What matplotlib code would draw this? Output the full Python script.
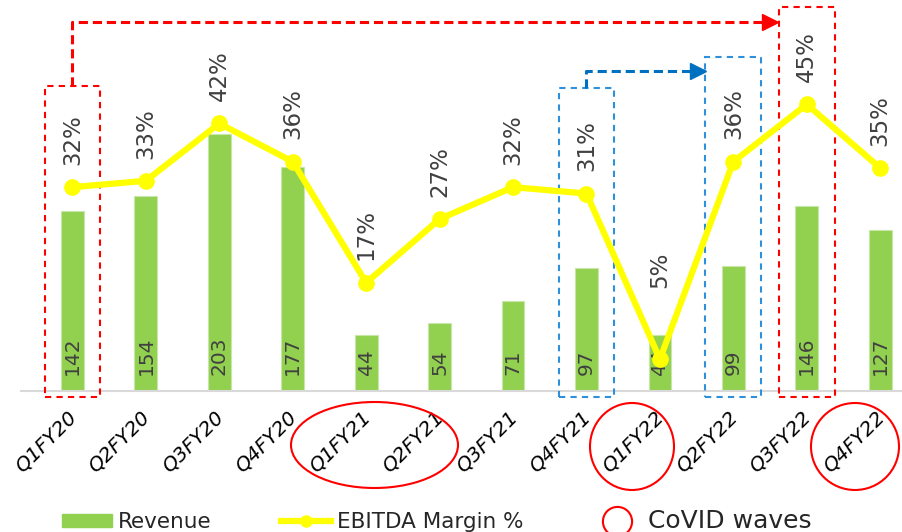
import matplotlib
matplotlib.use("Agg")
import matplotlib.pyplot as plt
from matplotlib.patches import Rectangle, Ellipse, Patch
from matplotlib.lines import Line2D
import matplotlib.transforms as mtransforms

# data
quarters = ["Q1FY20", "Q2FY20", "Q3FY20", "Q4FY20", "Q1FY21", "Q2FY21",
            "Q3FY21", "Q4FY21", "Q1FY22", "Q2FY22", "Q3FY22", "Q4FY22"]
revenue = [142, 154, 203, 177, 44, 54, 71, 97, 44, 99, 146, 127]
ebitda_margin = [32, 33, 42, 36, 17, 27, 32, 31, 5, 36, 45, 35]

BAR = "#92D050"
LINE = "#FFFF00"
TXT = "#404040"
RED = "#FF0000"
BLUE_BOX = "#2E8FDA"
BLUE_ARR = "#0070C0"

W, H = 903, 532
BASE = 391  # baseline pixel row

fig = plt.figure(figsize=(W / 100, H / 100), dpi=100)
ax = fig.add_axes([21 / W, (H - BASE) / H, 1 - 21 / W, BASE / H])
ax2 = ax.twinx()

x = list(range(len(quarters)))
ax.bar(x, revenue, width=0.31, color=BAR, edgecolor="#C8E6A8", linewidth=0.8, zorder=2)
ax.set_xlim(-0.70, 11.31)
ax.set_ylim(0, BASE / 1.265)
ax2.set_ylim(0, BASE / 6.37)

for a in (ax, ax2):
    for s in ("top", "right", "left"):
        a.spines[s].set_visible(False)
    a.set_yticks([])
ax2.spines["bottom"].set_visible(False)
ax.spines["bottom"].set_color("#D9D9D9")
ax.spines["bottom"].set_linewidth(1.5)
ax.set_xticks([])

# revenue labels inside bars
for i, v in enumerate(revenue):
    ax.annotate(str(v), xy=(i, 0), xytext=(0, 11.5), textcoords="offset points",
                rotation=90, ha="center", va="bottom", fontsize=14.5, color=TXT, zorder=3)

# ebitda line
ax2.plot(x, ebitda_margin, color=LINE, lw=4.5, marker="o", ms=11, zorder=5,
         solid_capstyle="round")
for i, v in enumerate(ebitda_margin):
    off = 16 if i != 8 else 51
    ax2.annotate(f"{v}%", xy=(i, v), xytext=(0, off), textcoords="offset points",
                 rotation=90, ha="center", va="bottom", fontsize=16.5, color=TXT)

# x labels
for i, q in enumerate(quarters):
    ax.annotate(q, xy=(i, 0), xycoords=("data", "axes fraction"), xytext=(-4, -12),
                textcoords="offset points", rotation=45, rotation_mode="anchor",
                ha="right", va="top", fontsize=14.5, style="italic", color="black",
                annotation_clip=False)

# annotation shapes, x in data units, y in axes fraction
tr = mtransforms.blended_transform_factory(ax.transData, ax.transAxes)


def fy(px):
    return (BASE - px) / BASE


def box(i, top, color):
    r = Rectangle((i - 0.38, fy(397)), 0.76, fy(top) - fy(397), transform=tr,
                  fill=False, edgecolor=color, lw=1.5, ls=(0, (3, 2.5)),
                  clip_on=False, zorder=6)
    ax.add_patch(r)


box(0, 86, RED)
box(10, 7, RED)
box(7, 88, BLUE_BOX)
box(9, 57, BLUE_BOX)

# red arrow
ax.plot([0, 0, 9.5], [fy(86), fy(22), fy(22)], transform=tr, color=RED, lw=2.2,
        ls=(0, (3, 1.6)), clip_on=False, zorder=6)
ax.plot([9.5], [fy(22)], transform=tr, marker=">", ms=11, color=RED,
        clip_on=False, zorder=6)
# blue arrow
ax.plot([7, 7, 8.5], [fy(88), fy(71), fy(71)], transform=tr, color=BLUE_ARR, lw=2.2,
        ls=(0, (3, 1.6)), clip_on=False, zorder=6)
ax.plot([8.52], [fy(71)], transform=tr, marker=">", ms=11, color=BLUE_ARR,
        clip_on=False, zorder=6)

# covid wave ellipses (figure pixels)
for cx, cy, w, h in [(374.5, 445, 167, 86), (632, 446.5, 84, 87), (855, 446.5, 88, 87)]:
    e = Ellipse((cx / W, 1 - cy / H), w / W, h / H, transform=fig.transFigure,
                fill=False, edgecolor=RED, lw=1.5)
    fig.add_artist(e)

handles = [Patch(facecolor=BAR, edgecolor=BAR),
           Line2D([0], [0], color=LINE, lw=4.5, marker="o", ms=8),
           Line2D([0], [0], ls="none", marker="o", ms=21, mfc="none", mec=RED, mew=1.5)]
leg = fig.legend(handles, ["Revenue", "EBITDA Margin %", "CoVID waves"], loc="center left",
                 bbox_to_anchor=(62 / W, 1 - 521 / H), ncol=3, frameon=False, fontsize=15.5,
                 handlelength=2.33, handletextpad=0.28, columnspacing=3.2, borderpad=0,
                 borderaxespad=0, handleheight=0.6)
for t in leg.get_texts():
    t.set_color("#262626")
leg.get_texts()[2].set_fontsize(18)

fig.savefig("out.png", dpi=100)
